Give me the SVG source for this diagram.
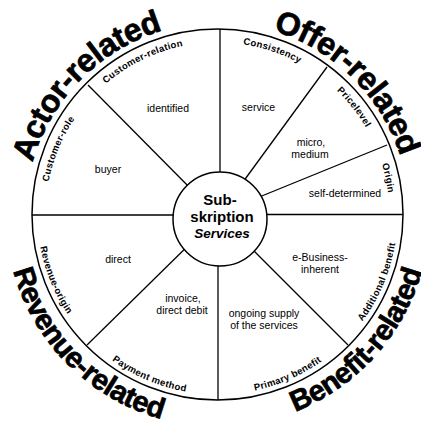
<svg xmlns="http://www.w3.org/2000/svg" xmlns:xlink="http://www.w3.org/1999/xlink" width="421" height="422" viewBox="0 0 421 422">
<style>
.big{font-family:"Liberation Sans",Arial,sans-serif;font-weight:bold;font-size:32px;fill:#000;stroke:#000;stroke-width:0.7px;letter-spacing:-0.5px}
.big2{font-family:"Liberation Sans",Arial,sans-serif;font-weight:bold;font-size:29px;fill:#000;stroke:#000;stroke-width:0.7px;letter-spacing:-0.5px}
.lbl{font-family:"Liberation Sans",Arial,sans-serif;font-weight:bold;font-size:9.5px;fill:#000;letter-spacing:0.3px}
.val{font-family:"Liberation Sans",Arial,sans-serif;font-size:10.5px;fill:#000;text-anchor:middle}
.ctr{font-family:"Liberation Sans",Arial,sans-serif;font-weight:bold;font-size:15px;fill:#000;text-anchor:middle}
.line{stroke:#000;stroke-width:1.3;fill:none}
</style>
<defs>
<path id="pActor" d="M 30.05 172.94 A 192 192 0 0 1 172.68 27.8"/>
<path id="pOffer" d="M 262.32 27.8 A 192 192 0 0 1 403.38 166.43"/>
<path id="pRevenue" d="M 10.93 262.19 A 212 212 0 0 0 169.81 421.07"/>
<path id="pBenefit" d="M 286.52 414.95 A 212 212 0 0 0 424.07 262.19"/>
<path id="pCRole" d="M 46.93 192.35 A 172 172 0 0 1 80.86 110.03"/>
<path id="pCRel" d="M 98.02 90.77 A 172 172 0 0 1 193.56 44.17"/>
<path id="pCons" d="M 233.99 43.29 A 172 172 0 0 1 307.37 67.85"/>
<path id="pPrice" d="M 329.89 84.3 A 172 172 0 0 1 370.48 135.89"/>
<path id="pOrigin" d="M 379.03 155.39 A 172 172 0 0 1 389.06 202.2"/>
<path id="pRevO" d="M 38.84 236.44 A 180 180 0 0 0 73.74 322.83"/>
<path id="pPay" d="M 104.22 354.39 A 180 180 0 0 0 195.56 393.16"/>
<path id="pPrim" d="M 241.62 392.88 A 180 180 0 0 0 332.48 352.99"/>
<path id="pAdd" d="M 355.79 329.72 A 180 180 0 0 0 396.58 232.69"/>
</defs>
<g id="wheel">
<circle cx="217.5" cy="214.5" r="185.5" fill="#fff" stroke="#000" stroke-width="1.5"/>
</g>
<g id="connectors" class="line">
<line x1="220" y1="29" x2="220" y2="215"/>
<line x1="88" y1="85" x2="200" y2="198"/>
<line x1="327" y1="67" x2="232" y2="197"/>
<line x1="387" y1="145" x2="247" y2="202"/>
<line x1="403" y1="214.5" x2="240" y2="214.5"/>
<line x1="348" y1="345" x2="240" y2="237"/>
<line x1="218" y1="400" x2="218" y2="240"/>
<line x1="87" y1="345" x2="200" y2="234"/>
<line x1="32" y1="215" x2="200" y2="215"/>
</g>
<g id="hub">
<circle cx="220" cy="219" r="47" fill="#fff" stroke="#000" stroke-width="1.5"/>
<text class="ctr" x="220" y="205">Sub-</text>
<text class="ctr" x="222" y="222">skription</text>
<text class="ctr" x="222" y="238" style="font-style:italic;font-size:13.5px">Services</text>
</g>
<g id="group-labels">
<text class="big"><textPath xlink:href="#pActor" href="#pActor" startOffset="50%" text-anchor="middle">Actor-related</textPath></text>
<text class="big"><textPath xlink:href="#pOffer" href="#pOffer" startOffset="50%" text-anchor="middle">Offer-related</textPath></text>
<text class="big2"><textPath xlink:href="#pRevenue" href="#pRevenue" startOffset="50%" text-anchor="middle">Revenue-related</textPath></text>
<text class="big2"><textPath xlink:href="#pBenefit" href="#pBenefit" startOffset="50%" text-anchor="middle">Benefit-related</textPath></text>
</g>
<g id="seg-customer-role">
<text class="lbl"><textPath href="#pCRole" startOffset="50%" text-anchor="middle">Customer-role</textPath></text>
<text class="val" x="108" y="173">buyer</text>
</g>
<g id="seg-customer-relation">
<text class="lbl"><textPath href="#pCRel" startOffset="50%" text-anchor="middle">Customer-relation</textPath></text>
<text class="val" x="168" y="112">identified</text>
</g>
<g id="seg-consistency">
<text class="lbl"><textPath href="#pCons" startOffset="50%" text-anchor="middle">Consistency</textPath></text>
<text class="val" x="258.5" y="111">service</text>
</g>
<g id="seg-pricelevel">
<text class="lbl"><textPath href="#pPrice" startOffset="50%" text-anchor="middle">Pricelevel</textPath></text>
<text class="val" x="311" y="146">micro,</text>
<text class="val" x="310" y="158">medium</text>
</g>
<g id="seg-origin">
<text class="lbl"><textPath href="#pOrigin" startOffset="50%" text-anchor="middle">Origin</textPath></text>
<text class="val" x="345" y="197">self-determined</text>
</g>
<g id="seg-additional-benefit">
<text class="lbl"><textPath href="#pAdd" startOffset="50%" text-anchor="middle">Additional benefit</textPath></text>
<text class="val" x="320" y="261">e-Business-</text>
<text class="val" x="320" y="273">inherent</text>
</g>
<g id="seg-primary-benefit">
<text class="lbl"><textPath href="#pPrim" startOffset="50%" text-anchor="middle">Primary benefit</textPath></text>
<text class="val" x="264" y="317">ongoing supply</text>
<text class="val" x="264" y="329">of the services</text>
</g>
<g id="seg-payment-method">
<text class="lbl"><textPath href="#pPay" startOffset="50%" text-anchor="middle">Payment method</textPath></text>
<text class="val" x="183" y="302">invoice,</text>
<text class="val" x="182" y="314">direct debit</text>
</g>
<g id="seg-revenue-origin">
<text class="lbl"><textPath href="#pRevO" startOffset="50%" text-anchor="middle">Revenue-origin</textPath></text>
<text class="val" x="118" y="263">direct</text>
</g>
</svg>
